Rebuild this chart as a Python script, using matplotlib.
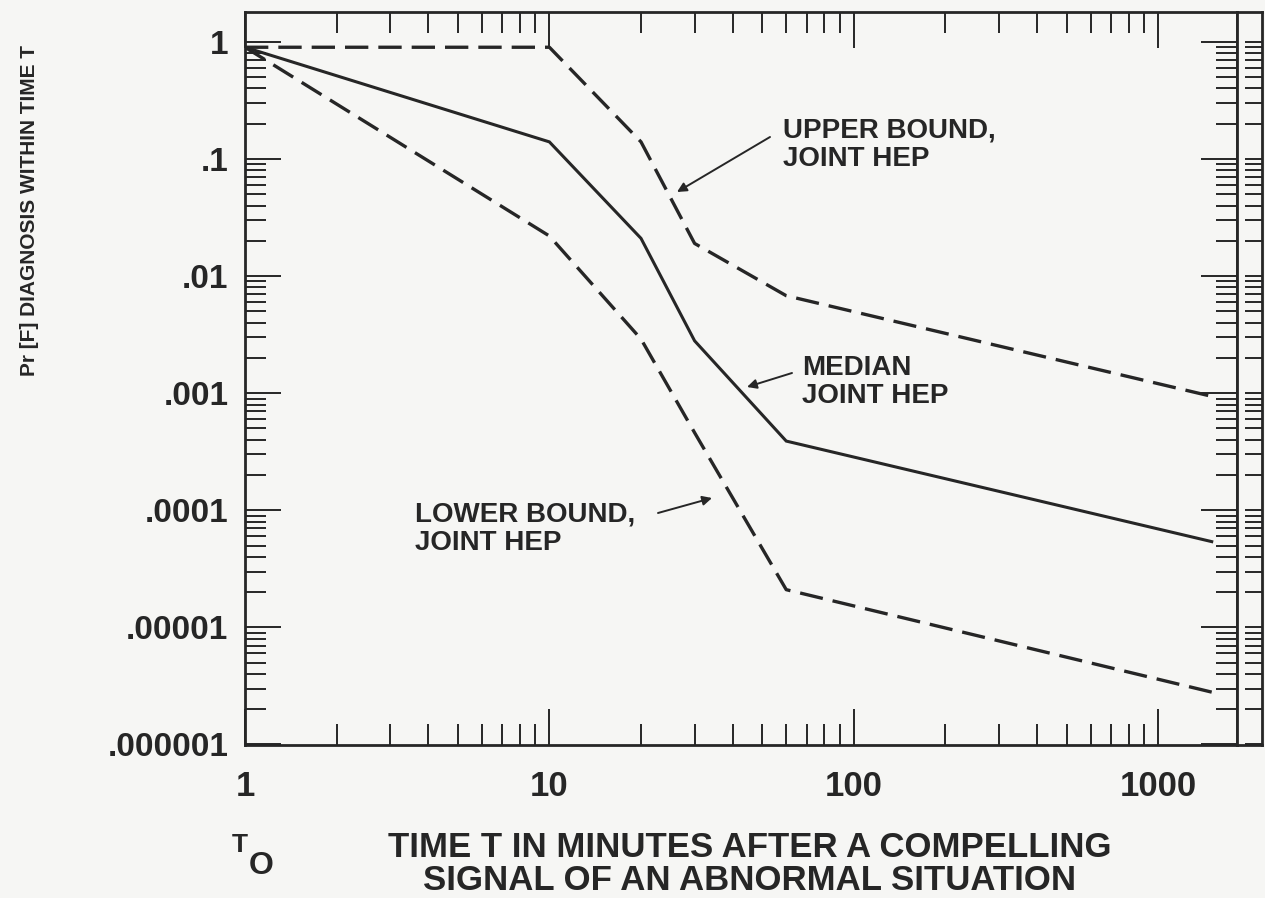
import matplotlib
matplotlib.use("Agg")
import matplotlib.pyplot as plt
from matplotlib.ticker import FixedLocator, LogLocator, NullFormatter

# ---- data (in the printed label scale) ----
time_min = [1, 10, 20, 30, 60, 1500]
median_hep = [0.9, 0.14, 0.021, 0.0028, 3.9e-4, 5.4e-5]
upper_hep = [0.9, 0.9, 0.14, 0.019, 0.0068, 9.4e-4]
lower_hep = [0.9, 0.022, 0.0029, 4.6e-4, 2.1e-5, 2.8e-6]

x_ticks = [1, 10, 100, 1000]
x_tick_labels = ["1", "10", "100", "1000"]
y_ticks = [1, 0.1, 0.01, 0.001, 0.0001, 0.00001, 0.000001]
y_tick_labels = ["1", ".1", ".01", ".001", ".0001", ".00001", ".000001"]

ylabel_text = "Pr [F] DIAGNOSIS WITHIN TIME T"
xlabel_lines = ["TIME T IN MINUTES AFTER A COMPELLING",
                "SIGNAL OF AN ABNORMAL SITUATION"]
upper_label = "UPPER BOUND,\nJOINT HEP"
median_label = "MEDIAN\nJOINT HEP"
lower_label = "LOWER BOUND,\nJOINT HEP"

# ---- style ----
W, H = 1265, 898
INK = "#262626"
BG = "#f6f6f4"
FONT = ["Liberation Sans", "DejaVu Sans"]
plt.rcParams["font.family"] = FONT
plt.rcParams["font.weight"] = "bold"

fig = plt.figure(figsize=(W / 100, H / 100), dpi=100, facecolor=BG)
ax = fig.add_axes([245 / W, 1 - 745 / H, (1237 - 245) / W, (745 - 12) / H])
ax.set_facecolor(BG)
ax.set_xscale("log")
ax.set_yscale("log")
ax.set_xlim(1, 1816)
ax.set_ylim(0.99e-6, 1.8)

ax.plot(time_min, median_hep, color=INK, lw=2.2, solid_joinstyle="miter")
ax.plot(time_min, upper_hep, color=INK, lw=2.4, dashes=(7, 3))
ax.plot(time_min, lower_hep, color=INK, lw=2.4, dashes=(7, 3))

for s in ax.spines.values():
    s.set_color(INK)
    s.set_linewidth(2.0)

ax.xaxis.set_major_locator(FixedLocator(x_ticks))
ax.set_xticklabels(x_tick_labels)
ax.xaxis.set_minor_locator(LogLocator(base=10, subs=range(2, 10), numticks=20))
ax.xaxis.set_minor_formatter(NullFormatter())
ax.yaxis.set_major_locator(FixedLocator(y_ticks))
ax.set_yticklabels(y_tick_labels)
ax.yaxis.set_minor_locator(LogLocator(base=10, subs=range(2, 10), numticks=20))
ax.yaxis.set_minor_formatter(NullFormatter())

ax.tick_params(which="both", direction="in", top=True, right=True,
               color=INK, width=1.4)
ax.tick_params(which="major", length=26)
ax.tick_params(which="minor", length=15)
ax.tick_params(axis="x", which="major", pad=18, labelsize=25, labelcolor=INK)
ax.tick_params(axis="y", which="major", pad=12, labelsize=24, labelcolor=INK)

# right-hand strip of the log paper
strip = fig.add_axes([1237 / W, 1 - 745 / H, (1262 - 1237) / W, (745 - 12) / H])
strip.set_facecolor(BG)
strip.set_yscale("log")
strip.set_ylim(ax.get_ylim())
strip.set_xticks([])
strip.yaxis.set_major_locator(FixedLocator(y_ticks))
strip.yaxis.set_minor_locator(LogLocator(base=10, subs=range(2, 10), numticks=20))
strip.yaxis.set_major_formatter(NullFormatter())
strip.yaxis.set_minor_formatter(NullFormatter())
strip.tick_params(which="both", direction="in", left=False, right=True,
                  color=INK, width=1.4, length=12)
for s in strip.spines.values():
    s.set_color(INK)
    s.set_linewidth(2.0)

# axis titles
fig.text(30 / W, 1 - 210 / H, ylabel_text, rotation=90, ha="center", va="center",
         fontsize=15, color=INK, fontweight="bold",
         family=["Liberation Sans Narrow", "Liberation Sans", "DejaVu Sans"])
fig.text(750 / W, 1 - 857 / H, xlabel_lines[0], ha="center", va="baseline",
         fontsize=25, color=INK)
fig.text(750 / W, 1 - 890 / H, xlabel_lines[1], ha="center", va="baseline",
         fontsize=25, color=INK)
fig.text(232 / W, 1 - 845 / H, "T", ha="left", va="center", fontsize=19, color=INK)
fig.text(249 / W, 1 - 866 / H, "O", ha="left", va="center", fontsize=23, color=INK)

# callouts
arrow = dict(arrowstyle="-|>", lw=1.4, color=INK, mutation_scale=14, shrinkA=0, shrinkB=0)
ax.annotate(upper_label, xy=(677, H - 192), xycoords="figure pixels",
            xytext=(783, H - 118), textcoords="figure pixels", ha="left", va="top",
            fontsize=20, color=INK, linespacing=1.1)
ax.annotate("", xy=(677, H - 192), xycoords="figure pixels",
            xytext=(770, H - 137), textcoords="figure pixels", arrowprops=arrow)
ax.annotate(median_label, xy=(747, H - 387), xycoords="figure pixels",
            xytext=(802, H - 355), textcoords="figure pixels", ha="left", va="top",
            fontsize=20, color=INK, linespacing=1.1)
ax.annotate("", xy=(747, H - 387), xycoords="figure pixels",
            xytext=(792, H - 373), textcoords="figure pixels", arrowprops=arrow)
ax.annotate(lower_label, xy=(712, H - 498), xycoords="figure pixels",
            xytext=(415, H - 502), textcoords="figure pixels", ha="left", va="top",
            fontsize=20, color=INK, linespacing=1.1)
ax.annotate("", xy=(712, H - 498), xycoords="figure pixels",
            xytext=(658, H - 513), textcoords="figure pixels", arrowprops=arrow)

fig.savefig("out.png", dpi=100, facecolor=BG)
